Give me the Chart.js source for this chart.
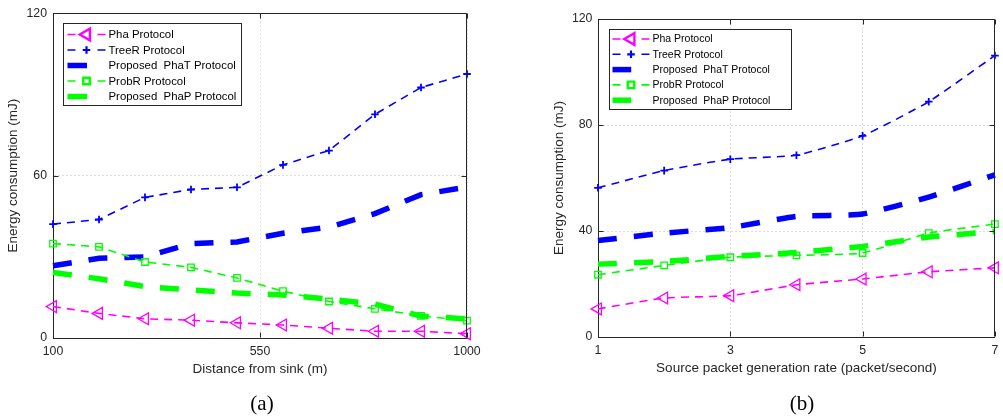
<!DOCTYPE html>
<html>
<head>
<meta charset="utf-8">
<script src="https://cdn.jsdelivr.net/npm/chart.js@4.4.1/dist/chart.umd.min.js"></script>
<style>
  body { margin: 0; background: #fff; width: 1003px; height: 419px; overflow: hidden; position: relative; }
  canvas { position: absolute; top: 0; }
  #chartA { left: 0; }
  #chartB { left: 510px; }
  .cap { position: absolute; font-family: 'Liberation Serif', 'Times New Roman', serif; font-size: 21px; color: #000;
         transform: translate(-50%, -50%); white-space: nowrap; }
</style>
</head>
<body>
<canvas id="chartA" width="490" height="419"></canvas>
<canvas id="chartB" width="493" height="419"></canvas>
<div class="cap" style="left:262px; top:403px;">(a)</div>
<div class="cap" style="left:802px; top:403px;">(b)</div>
<script>
// (a) energy vs distance from sink
const distance = [100, 200, 300, 400, 500, 600, 700, 800, 900, 1000];
const phaA   = [11.6, 9.1, 7.1, 6.6, 5.6, 4.8, 3.6, 2.5, 2.5, 1.6];
const treeRA = [42.1, 43.8, 52.0, 54.9, 55.7, 64.0, 69.3, 82.7, 92.6, 97.6];
const phaTA  = [26.7, 29.5, 30.0, 34.9, 35.5, 38.7, 41.0, 46.0, 53.0, 55.8];
const probRA = [34.9, 33.7, 28.1, 26.1, 22.2, 17.3, 13.5, 10.8, 8.2, 6.4];
const phaPA  = [24.2, 21.9, 19.0, 17.8, 16.6, 15.9, 14.4, 12.5, 8.1, 7.1];
const distTicks = [100, 550, 1000];
const energyTicksA = [0, 60, 120];

// (b) energy vs source packet generation rate
const rate = [1, 2, 3, 4, 5, 6, 7];
const phaB   = [10.6, 14.7, 15.6, 19.7, 21.9, 24.6, 26.1];
const treeRB = [56.3, 62.8, 67.1, 68.6, 75.9, 88.8, 106.2];
const phaTB  = [36.4, 39.2, 41.3, 45.5, 46.4, 52.8, 61.2];
const probRB = [23.5, 27.0, 30.1, 30.8, 31.7, 39.2, 42.6];
const phaPB  = [27.5, 28.5, 30.4, 31.9, 34.2, 37.7, 39.8];
const rateTicks = [1, 3, 5, 7];
const energyTicksB = [0, 40, 80, 120];

const labels = ['Pha Protocol', 'TreeR Protocol', 'Proposed  PhaT Protocol', 'ProbR Protocol', 'Proposed  PhaP Protocol'];

const MAGENTA = '#ff00ff', BLUE = '#0000ff', GREEN = '#00ff00';
const textColor = '#262626';
const axisColor = '#262626';
const gridColor = 'rgba(0,0,0,0.13)';
Chart.defaults.font.family = '"Liberation Sans", Arial, sans-serif';

const styles = [
  { color: MAGENTA, marker: 'triangle', radius: 6.8, rotation: -90, thick: false },
  { color: BLUE, marker: 'cross', radius: 3.8, thick: false },
  { color: BLUE, thick: true },
  { color: GREEN, marker: 'rect', radius: 4.6, thick: false },
  { color: GREEN, thick: true }
];

function makeSet(i, xs, ys, tension) {
  const st = styles[i];
  return {
    label: labels[i],
    data: xs.map((x, k) => ({ x: x, y: ys[k] })),
    borderColor: st.color,
    borderWidth: st.thick ? 5.5 : 1.6,
    borderDash: st.thick ? [19, 17] : [8, 6],
    pointStyle: st.marker || 'circle',
    pointRadius: st.thick ? 0 : st.radius,
    pointRotation: st.rotation || 0,
    pointBorderColor: st.color,
    pointBackgroundColor: 'rgba(0,0,0,0)',
    pointBorderWidth: st.marker === 'cross' ? 1.8 : 1.3,
    fill: false,
    tension: tension,
    clip: false,
    order: 5 - i
  };
}

function drawMarker(ctx, type, x, y, r, color, lw) {
  ctx.save();
  ctx.strokeStyle = color;
  ctx.lineWidth = lw;
  ctx.setLineDash([]);
  ctx.beginPath();
  if (type === 'triangle') {
    const h = r * Math.sqrt(3) / 2;
    ctx.moveTo(x - r, y);
    ctx.lineTo(x + r / 2, y - h);
    ctx.lineTo(x + r / 2, y + h);
    ctx.closePath();
  } else if (type === 'cross') {
    ctx.moveTo(x - r, y); ctx.lineTo(x + r, y);
    ctx.moveTo(x, y - r); ctx.lineTo(x, y + r);
  } else if (type === 'rect') {
    const s = r * Math.SQRT1_2;
    ctx.rect(x - s, y - s, 2 * s, 2 * s);
  }
  ctx.stroke();
  ctx.restore();
}

// box on, inward ticks on all four sides, legend box inside the axes
const framePlugin = {
  id: 'frame',
  afterDatasetsDraw(chart, args, opts) {
    const { ctx, chartArea: a, scales } = chart;
    const xs = scales.x, ys = scales.y;
    ctx.save();
    ctx.strokeStyle = axisColor;
    ctx.lineWidth = 1;
    ctx.setLineDash([]);
    const top = Math.round(a.top) + 0.5, right = Math.round(a.right) - 0.5;
    const bottom = Math.round(a.bottom) - 0.5, left = Math.round(a.left) + 0.5;
    ctx.beginPath();
    ctx.moveTo(left, top); ctx.lineTo(right, top); ctx.lineTo(right, bottom);
    xs.ticks.forEach(t => {
      const px = Math.round(xs.getPixelForValue(t.value)) + 0.5;
      ctx.moveTo(px, bottom); ctx.lineTo(px, bottom - 5);
      ctx.moveTo(px, top); ctx.lineTo(px, top + 5);
    });
    ys.ticks.forEach(t => {
      const py = Math.round(ys.getPixelForValue(t.value)) + 0.5;
      ctx.moveTo(left, py); ctx.lineTo(left + 5, py);
      ctx.moveTo(right, py); ctx.lineTo(right - 5, py);
    });
    ctx.stroke();

    // legend
    const bx = Math.round(a.left + opts.dx) + 0.5, by = Math.round(a.top + opts.dy) + 0.5;
    ctx.fillStyle = '#fff';
    ctx.fillRect(bx, by, opts.w, opts.h);
    ctx.strokeRect(bx, by, opts.w, opts.h);
    ctx.font = opts.fontSize + 'px "Liberation Sans", Arial, sans-serif';
    ctx.textBaseline = 'middle';
    ctx.textAlign = 'left';
    labels.forEach((lab, i) => {
      const st = styles[i];
      const ry = by + opts.first + i * opts.step;
      const x0 = bx + opts.sx0, x1 = bx + opts.sx1;
      ctx.strokeStyle = st.color;
      if (st.thick) {
        ctx.lineWidth = 5.5;
        ctx.beginPath();
        ctx.moveTo(x0, ry); ctx.lineTo(x0 + opts.thickLen, ry);
        ctx.stroke();
      } else {
        ctx.lineWidth = 1.6;
        ctx.beginPath();
        ctx.moveTo(x0, ry); ctx.lineTo(x0 + 8, ry);
        ctx.moveTo(x1 - 8, ry); ctx.lineTo(x1, ry);
        ctx.stroke();
        drawMarker(ctx, st.marker, (x0 + x1) / 2, ry, st.radius, st.color, st.marker === 'cross' ? 2.2 : 2.4);
      }
      ctx.fillStyle = '#000';
      ctx.fillText(lab, bx + opts.tx, ry + 0.5);
    });
    ctx.restore();
  }
};

function makeChart(id, cfg) {
  const tickFont = { size: 12.3 };
  const titleFont = { size: 13.5 };
  return new Chart(document.getElementById(id), {
    type: 'line',
    data: {
      datasets: [
        makeSet(0, cfg.xs, cfg.series[0], cfg.tension),
        makeSet(1, cfg.xs, cfg.series[1], cfg.tension),
        makeSet(2, cfg.xs, cfg.series[2], cfg.tension),
        makeSet(3, cfg.xs, cfg.series[3], cfg.tension),
        makeSet(4, cfg.xs, cfg.series[4], cfg.tension)
      ]
    },
    options: {
      responsive: false,
      animation: false,
      events: [],
      layout: { padding: cfg.padding },
      plugins: {
        legend: { display: false },
        tooltip: { enabled: false },
        frame: cfg.legend
      },
      scales: {
        x: {
          type: 'linear',
          min: cfg.xTicks[0],
          max: cfg.xTicks[cfg.xTicks.length - 1],
          afterBuildTicks: s => { s.ticks = cfg.xTicks.map(v => ({ value: v })); },
          afterFit: s => { s.height = cfg.xHeight; s.paddingLeft = 0; s.paddingRight = 0; },
          grid: { color: gridColor, drawTicks: false },
          border: { color: axisColor, width: 1, dash: [2, 2] },
          ticks: { padding: cfg.xTickPad, color: textColor, font: tickFont, maxRotation: 0,
                   callback: v => String(v) },
          title: { display: true, text: cfg.xTitle, color: textColor, font: titleFont,
                   padding: { top: 0, bottom: cfg.xTitlePad } }
        },
        y: {
          type: 'linear',
          min: cfg.yTicks[0],
          max: cfg.yTicks[cfg.yTicks.length - 1],
          afterBuildTicks: s => { s.ticks = cfg.yTicks.map(v => ({ value: v })); },
          afterFit: s => { s.width = cfg.yWidth; },
          grid: { color: gridColor, drawTicks: false },
          border: { color: axisColor, width: 1, dash: [2, 2] },
          ticks: { padding: cfg.yTickPad, color: textColor, font: tickFont, callback: v => String(v) },
          title: { display: true, text: 'Energy consumption (mJ)', color: textColor, font: titleFont,
                   padding: { top: cfg.yTitlePad, bottom: 0 } }
        }
      }
    },
    plugins: [framePlugin]
  });
}

makeChart('chartA', {
  xs: distance,
  series: [phaA, treeRA, phaTA, probRA, phaPA],
  tension: 0,
  xTicks: distTicks,
  yTicks: energyTicksA,
  xTitle: 'Distance from sink (m)',
  padding: { top: 11, right: 23, left: 0, bottom: 0 },
  xHeight: 81, yWidth: 53,
  xTickPad: 6.6, yTickPad: 6,
  xTitlePad: 41.9, yTitlePad: 5,
  legend: { dx: 10, dy: 10, w: 178, h: 82, first: 11, step: 15.5, sx0: 4, sx1: 42, thickLen: 19.5, tx: 45, fontSize: 11.4 }
});

makeChart('chartB', {
  xs: rate,
  series: [phaB, treeRB, phaTB, probRB, phaPB],
  tension: 0.15,
  xTicks: rateTicks,
  yTicks: energyTicksB,
  xTitle: 'Source packet generation rate (packet/second)',
  padding: { top: 19, right: 1.5, left: 0, bottom: 0 },
  xHeight: 82, yWidth: 88,
  xTickPad: 6.3, yTickPad: 5.6,
  xTitlePad: 42.6, yTitlePad: 40.9,
  legend: { dx: 10.7, dy: 10, w: 182, h: 80, first: 9.5, step: 15.3, sx0: 3, sx1: 40, thickLen: 18.7, tx: 43, fontSize: 10.5 }
});
</script>
</body>
</html>
